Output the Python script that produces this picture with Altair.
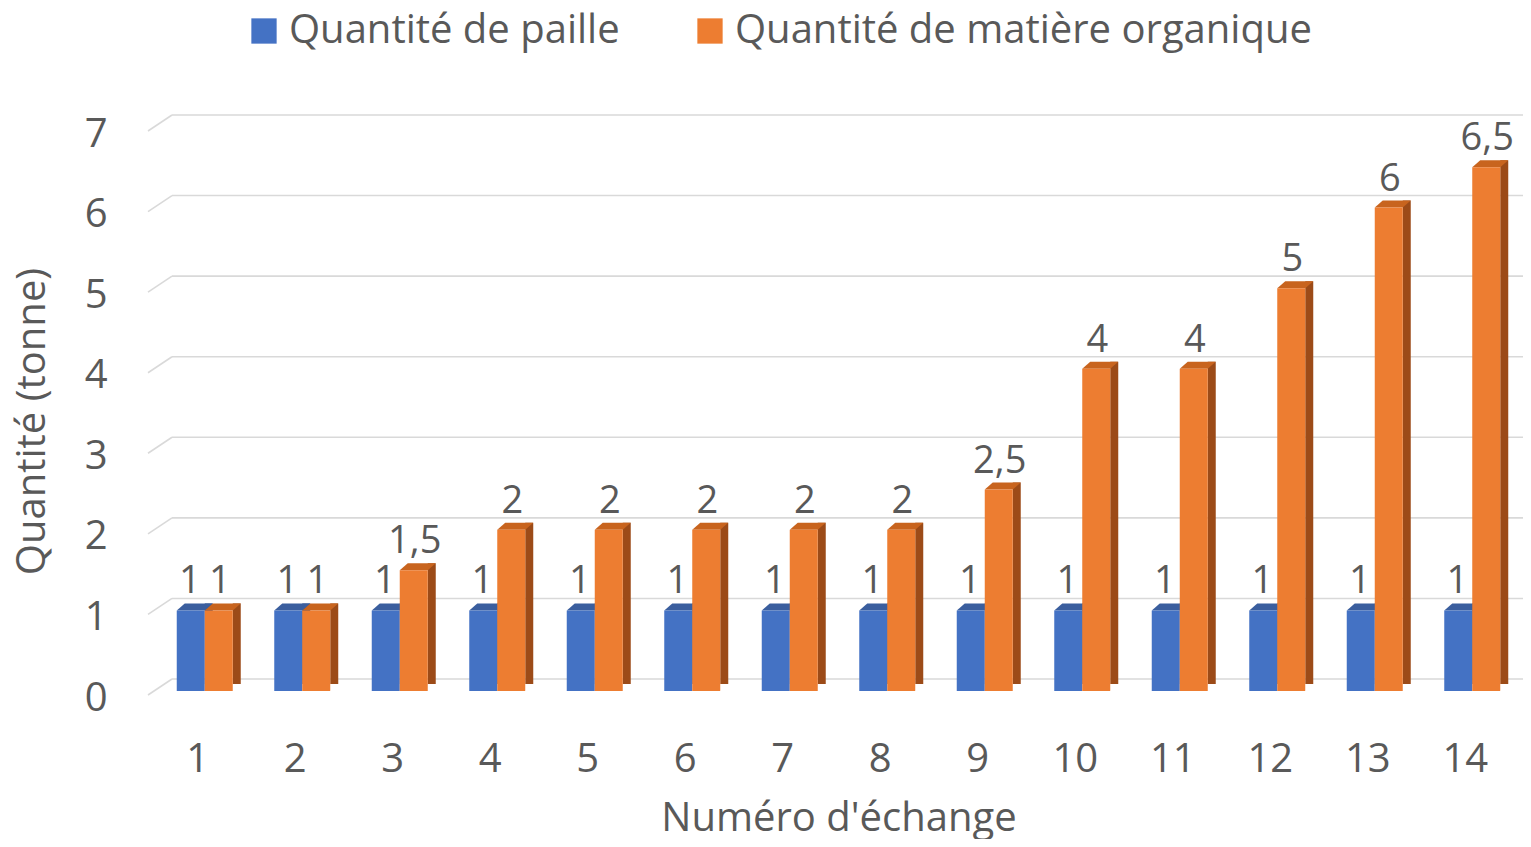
import altair as alt
import pandas as pd

# ---- data ----
echanges = list(range(1, 15))
paille = [1, 1, 1, 1, 1, 1, 1, 1, 1, 1, 1, 1, 1, 1]
matiere = [1, 1, 1.5, 2, 2, 2, 2, 2, 2.5, 4, 4, 5, 6, 6.5]
y_ticks = [0, 1, 2, 3, 4, 5, 6, 7]
series = ["Quantité de paille", "Quantité de matière organique"]

def fmt(v):
    s = ("%g" % v).replace(".", ",")
    return s

df_p = pd.DataFrame({"numero": echanges, "valeur": paille,
                     "serie": series[0], "label": [fmt(v) for v in paille]})
df_m = pd.DataFrame({"numero": echanges, "valeur": matiere,
                     "serie": series[1], "label": [fmt(v) for v in matiere]})
df_m["zero"] = 0
df_grid = pd.DataFrame({"valeur": y_ticks})

FONT = "Open Sans"
TXT = "#595959"
GRID = "#D9D9D9"
BLUE, BLUE_TOP, BLUE_SIDE = "#4472C4", "#3A5E9E", "#2F4F88"
ORANGE, ORANGE_TOP, ORANGE_SIDE = "#ED7D31", "#C8641E", "#9C4B18"

W, H = 1365, 564

xscale = alt.Scale(paddingInner=0, paddingOuter=0)
xaxis = alt.Axis(title="Numéro d'échange", labelAngle=0, domain=False, ticks=False,
                 grid=False, labelFont=FONT, labelFontSize=40, labelColor=TXT,
                 labelPadding=68, labelBaseline="middle", labelOffset=-7,
                 titleFont=FONT, titleFontSize=40, titleColor=TXT, titleFontWeight="normal",
                 titleY=127, titleBaseline="middle")
yscale = alt.Scale(domain=[0, 7], nice=False, zero=True)
yaxis = alt.Axis(title="Quantité (tonne)", values=y_ticks, domain=False, ticks=False,
                 grid=False, labelFont=FONT, labelFontSize=40, labelColor=TXT,
                 labelPadding=49, labelOffset=7, format="d",
                 titleFont=FONT, titleFontSize=40, titleColor=TXT, titleFontWeight="normal",
                 titleX=-124, titleY=294, titleBaseline="middle")

X = alt.X("numero:O", scale=xscale, axis=xaxis, sort=echanges)

def Y(field="valeur"):
    return alt.Y(field + ":Q", scale=yscale, axis=yaxis, title="Quantité (tonne)")

color = alt.Color("serie:N", scale=alt.Scale(domain=series, range=[BLUE, ORANGE]),
                  legend=alt.Legend(title=None, orient="none", direction="horizontal",
                                    legendX=88, legendY=-116, symbolType="square",
                                    symbolSize=640, symbolStrokeWidth=0,
                                    labelFont=FONT, labelFontSize=40, labelColor=TXT,
                                    labelOffset=5, columnPadding=70, labelLimit=0))

TOP_SHAPE = "M -1 0 L 1 0 L 1.571 -0.5 L -0.429 -0.5 Z"
BOTTOM_TRI = "M 1 0 L 1.571 0 L 1.571 -0.5 Z"

grid_back = alt.Chart(df_grid).mark_rule(color=GRID, strokeWidth=1.6, yOffset=-12).encode(
    x=alt.value(16), x2=alt.value(W + 12), y=Y())
grid_diag = alt.Chart(df_grid).mark_rule(color=GRID, strokeWidth=1.6, yOffset=4, y2Offset=-12).encode(
    x=alt.value(-8), x2=alt.value(16), y=Y(), y2=alt.Y2("valeur:Q"))

p_side = alt.Chart(df_p).mark_bar(width=8, xOffset=4, yOffset=-7, color=BLUE_SIDE).encode(x=X, y=Y())
p_top = alt.Chart(df_p).mark_point(shape=TOP_SHAPE, size=784, filled=True, fill=BLUE_TOP,
                                   strokeWidth=0, opacity=1, xOffset=-14).encode(x=X, y=Y())
p_front = alt.Chart(df_p).mark_bar(width=28, xOffset=-14).encode(x=X, y=Y(), color=color)

m_side = alt.Chart(df_m).mark_bar(width=8, xOffset=32, yOffset=-7, color=ORANGE_SIDE).encode(x=X, y=Y())
m_top = alt.Chart(df_m).mark_point(shape=TOP_SHAPE, size=784, filled=True, fill=ORANGE_TOP,
                                   strokeWidth=0, opacity=1, xOffset=14).encode(x=X, y=Y())
m_front = alt.Chart(df_m).mark_bar(width=28, xOffset=14).encode(x=X, y=Y(), color=color)
m_bottom = alt.Chart(df_m).mark_point(shape=BOTTOM_TRI, size=784, filled=True, fill="white",
                                      strokeWidth=0, opacity=1, xOffset=14).encode(x=X, y=Y("zero"))

p_text = alt.Chart(df_p).mark_text(font=FONT, fontSize=38, color=TXT, baseline="alphabetic",
                                   dy=-17, xOffset=-15).encode(x=X, y=Y(), text="label:N")
m_text = alt.Chart(df_m).mark_text(font=FONT, fontSize=38, color=TXT, baseline="alphabetic",
                                   dy=-17, xOffset=15).encode(x=X, y=Y(), text="label:N")

chart = alt.layer(grid_back, grid_diag, p_side, p_top, p_front,
                  m_side, m_top, m_front, m_bottom, p_text, m_text).properties(
    width=W, height=H,
    autosize=alt.AutoSizeParams(type="none"),
    padding={"left": 148, "top": 119, "right": 2, "bottom": 148},
    background="white",
).configure_view(stroke=None)

chart.save("out.html", embed_options={"renderer": "svg", "actions": False})
